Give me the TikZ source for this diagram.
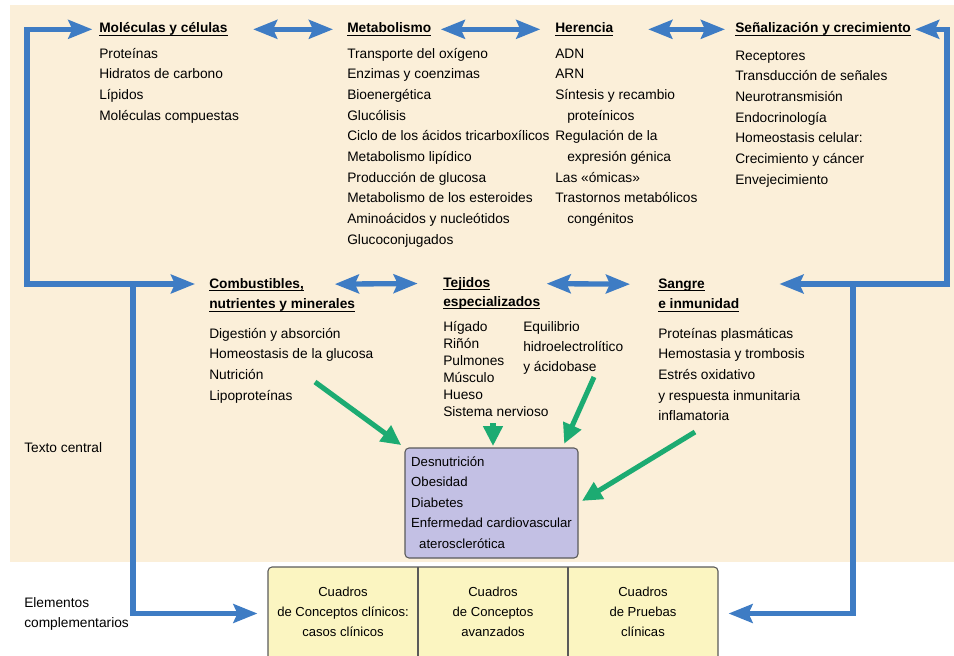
\documentclass[tikz,border=0pt]{standalone}
\usepackage{fontspec}
\setmainfont{Liberation Sans}
\usetikzlibrary{arrows.meta}

\definecolor{fondo}{HTML}{FBEFD9}
\definecolor{azulF}{HTML}{3E7CC4}
\definecolor{verdeF}{HTML}{1CAB72}
\definecolor{lila}{HTML}{C3C0E4}
\definecolor{amarillo}{HTML}{FBF5C1}
\definecolor{borde}{HTML}{5A5A5A}

% titulo subrayado
\newcommand{\subr}[1]{\setbox0\hbox{\bfseries #1}\rlap{\rule[-2.2pt]{\wd0}{0.7pt}}\box0}

\begin{document}
\begin{tikzpicture}
  [x=0.75pt,y=-0.75pt,
   every node/.style={inner sep=0pt,font=\fontsize{10.3}{15.5}\selectfont},
   lista/.style={anchor=north west,align=left},
   titulo/.style={anchor=base west,text height=8pt,text depth=2.5pt},
   azul/.style={draw=azulF,line width=4pt,line cap=rect,-{Stealth[length=18pt,width=14pt,inset=3pt]}},
   doble/.style={azul,{Stealth[length=18pt,width=14pt,inset=3pt]}-{Stealth[length=18pt,width=14pt,inset=3pt]}},
   verde/.style={draw=verdeF,line width=3.8pt,-{Triangle[length=15pt,width=14pt]}},
   caja/.style={draw=borde,line width=0.8pt,rounded corners=3pt}]
  \useasboundingbox (0,0) rectangle (954,656);
  \clip (0,0) rectangle (954,656);
  \fill[fondo] (10,5) rectangle (954,562);

  % fila de arriba
  \node[titulo] (mol) at (99,33) {\subr{Moléculas y células}};
  \node[titulo] (met) at (347,33) {\subr{Metabolismo}};
  \node[titulo] (her) at (555,33) {\subr{Herencia}};
  \node[titulo] (sen) at (735,33) {\subr{Señalización y crecimiento}};

  \node[lista] (mol1) at (99,43.5) {\strut Proteínas\\Hidratos de carbono\\Lípidos\\Moléculas compuestas};
  \node[lista] (met1) at (347,43.5) {\strut Transporte del oxígeno\\Enzimas y coenzimas\\Bioenergética\\Glucólisis\\Ciclo de los ácidos tricarboxílicos\\Metabolismo lipídico\\Producción de glucosa\\Metabolismo de los esteroides\\Aminoácidos y nucleótidos\\Glucoconjugados};
  \node[lista] (her1) at (555,43.5) {\strut ADN\\ARN\\Síntesis y recambio\\\hspace*{9pt}proteínicos\\Regulación de la\\\hspace*{9pt}expresión génica\\Las «ómicas»\\Trastornos metabólicos\\\hspace*{9pt}congénitos};
  \node[lista] (sen1) at (735,45.5) {\strut Receptores\\Transducción de señales\\Neurotransmisión\\Endocrinología\\Homeostasis celular:\\Crecimiento y cáncer\\Envejecimiento};

  % fila del medio
  \node[titulo] (comb) at (209,288) {\subr{Combustibles,}};
  \node[titulo] (comb2) at (209,309) {\subr{nutrientes y minerales}};
  \node[titulo] (tej) at (443,287) {\subr{Tejidos}};
  \node[titulo] (tej2) at (443,306) {\subr{especializados}};
  \node[titulo] (san) at (658,288) {\subr{Sangre}};
  \node[titulo] (san2) at (658,309) {\subr{e inmunidad}};

  \node[lista] (comb1) at (209,323.5) {\strut Digestión y absorción\\Homeostasis de la glucosa\\Nutrición\\Lipoproteínas};
  \node[lista,font=\fontsize{10.3}{12.75}\selectfont] (tej1) at (443,319) {\strut Hígado\\Riñón\\Pulmones\\Músculo\\Hueso\\Sistema nervioso};
  \node[lista,font=\fontsize{10.3}{15}\selectfont] (tej3) at (523,317) {\strut Equilibrio\\hidroelectrolítico\\y ácidobase};
  \node[lista] (san1) at (658,323.5) {\strut Proteínas plasmáticas\\Hemostasia y trombosis\\Estrés oxidativo\\y respuesta inmunitaria\\inflamatoria};

  \node[titulo] (tc) at (24,452) {Texto central};
  \node[lista] (ec) at (24,592.5) {\strut Elementos\\complementarios};

  % cajas
  \node[caja,fill=lila,minimum width=129.75pt,minimum height=82.5pt,align=left,
        font=\fontsize{9.9}{15.4}\selectfont] (dis) at (491.5,503)
        {\strut Desnutrición\\Obesidad\\Diabetes\\Enfermedad cardiovascular\\\hspace*{6pt}aterosclerótica\strut};

  \node[caja,fill=amarillo,minimum width=337.5pt,minimum height=69.75pt] (cua) at (493,613.5) {};
  \draw[borde,line width=0.8pt] (418,567) -- (418,662);
  \draw[borde,line width=0.8pt] (568,567) -- (568,662);
  \node[align=center,font=\fontsize{9.8}{15}\selectfont] (c1) at (343,612) {Cuadros\\de Conceptos clínicos:\\casos clínicos};
  \node[align=center,font=\fontsize{9.8}{15}\selectfont] (c2) at (493,612) {Cuadros\\de Conceptos\\avanzados};
  \node[align=center,font=\fontsize{9.8}{15}\selectfont] (c3) at (643,612) {Cuadros\\de Pruebas\\clínicas};

  % flechas dobles
  \draw[doble,shorten <=19pt,shorten >=10.5pt] (mol.east) -- (met.west);
  \draw[doble,shorten <=7pt,shorten >=11pt] (met.east) -- (her.west);
  \draw[doble,shorten <=26pt,shorten >=7.5pt] (her.east) -- (sen.west);
  \draw[doble,shorten <=23pt,shorten >=19pt] (comb.east) -- (tej.west);
  \draw[doble,shorten <=42pt,shorten >=21pt] (tej.east) -- (san.west);

  % lineas azules
  \coordinate (lc) at (27,284);
  \coordinate (lb) at (133,284);
  \coordinate (rc) at (947,284);
  \coordinate (rb) at (853,284);
  \draw[azul,shorten >=5pt] (lc) |- (mol.west);
  \draw[azul,shorten >=10.5pt] (lc) -- (lc -| comb.west);
  \draw[azul,shorten >=7.5pt] (lb) |- (cua.west);
  \draw[azul,shorten >=3pt] (rc) |- (sen.east);
  \draw[azul,shorten >=30pt] (rc) -- (rc -| san2.east);
  \draw[azul,shorten >=7.5pt] (rb) |- (cua.east);

  % flechas verdes
  \coordinate (g1) at (315,382);
  \coordinate (g2) at (493,423);
  \coordinate (g3) at (594,377);
  \coordinate (g4) at (695,432);
  \draw[verde,shorten >=3pt] (g1) -- (dis.north west);
  \draw[verde,shorten >=1pt] (g2) -- (g2 |- dis.north);
  \draw[verde,shorten >=3pt] (g3) -- ([xshift=-12pt]dis.north east);
  \draw[verde,shorten >=3pt] (g4) -- (dis.east);
\end{tikzpicture}
\end{document}
